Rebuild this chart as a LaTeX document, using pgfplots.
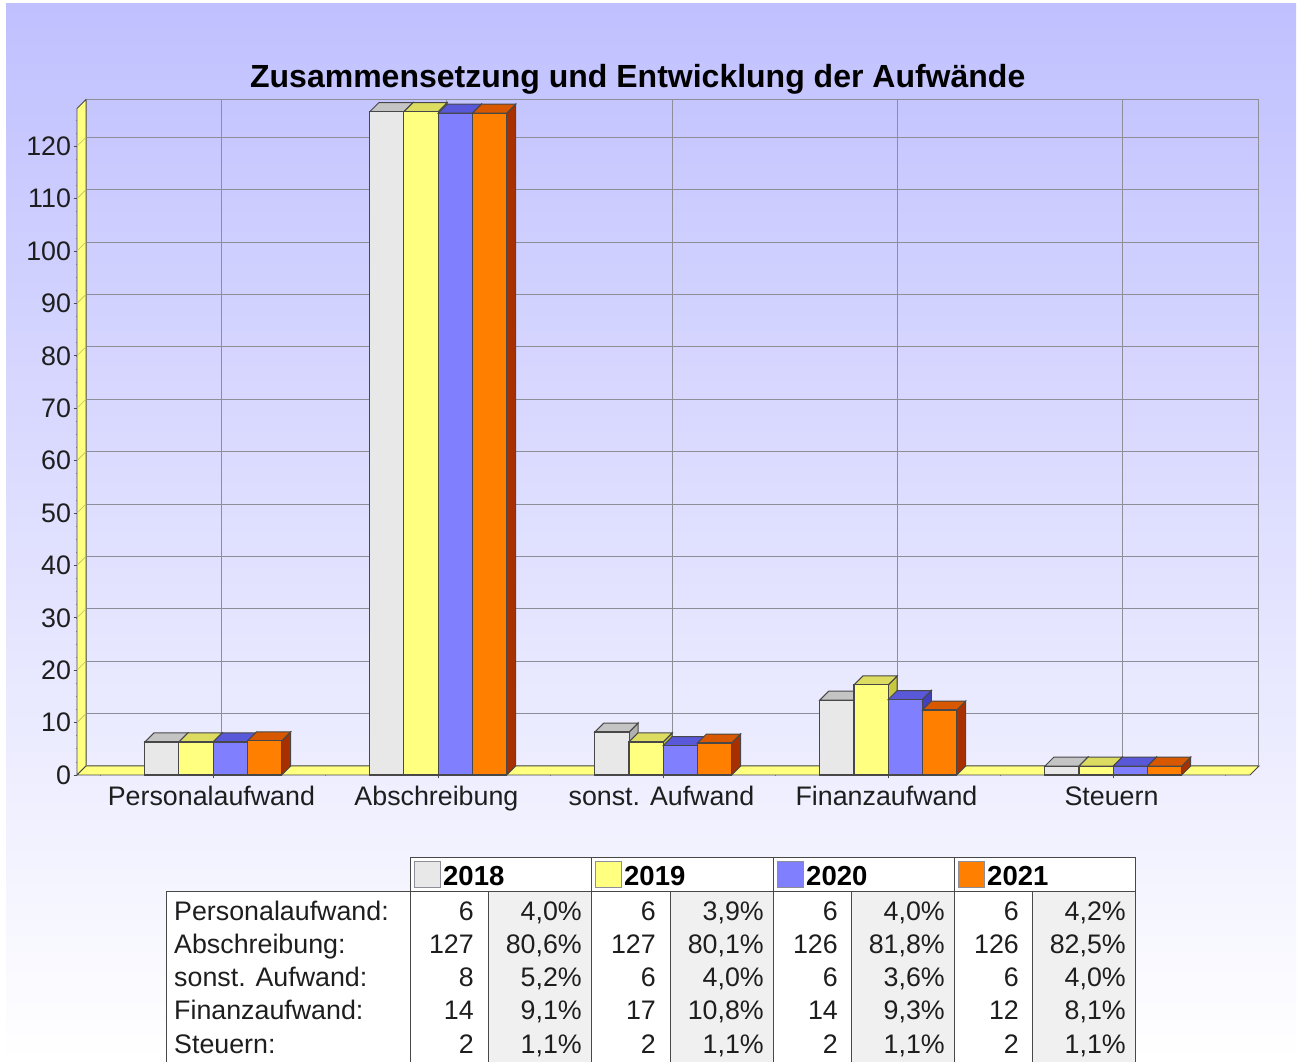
\documentclass[border=0pt]{standalone}
\usepackage{pgfplots}
\usepackage{pgfplotstable}
\usepackage{fontspec}
\usetikzlibrary{calc}
\pgfplotsset{compat=1.18}
\setmainfont{Liberation Sans}

\definecolor{c18}{HTML}{E8E8E8}
\definecolor{c19}{HTML}{FFFF80}
\definecolor{c20}{HTML}{8080FF}
\definecolor{c21}{HTML}{FF8000}
\definecolor{t18}{HTML}{C4C4C4}
\definecolor{t19}{HTML}{DCDC60}
\definecolor{t20}{HTML}{5858D8}
\definecolor{t21}{HTML}{D85800}
\definecolor{s18}{HTML}{B0B0B0}
\definecolor{s19}{HTML}{C8C840}
\definecolor{s20}{HTML}{4040C0}
\definecolor{s21}{HTML}{A83000}
\definecolor{edge}{HTML}{484848}
\definecolor{gridc}{HTML}{8E8E98}
\definecolor{txt}{HTML}{1E1E1E}
\definecolor{pct}{HTML}{F0F0F0}
\definecolor{bgtop}{HTML}{C0C0FF}

\pgfdeclareplotmark{nothing}{}

% values estimated from bar heights and the percentages in the table
\pgfplotstableread{
i y2018 y2019 y2020 y2021
0 6.3 6.3 6.3 6.5
1 126.6 126.6 126.3 126.3
2 8.2 6.3 5.6 6.1
3 14.3 17.2 14.4 12.4
4 1.7 1.7 1.7 1.7
}\data

\newcommand{\threedbar}[5]{%
  \addplot[only marks, mark=nothing, scatter,
    visualization depends on={\thisrow{#1} \as \bary},
    scatter/@pre marker code/.code={%
      \pgfscope
      \pgfsetlinewidth{1pt}\pgfsetstrokecolor{edge}
      \pgfsetfillcolor{#5}
      \pgfpathmoveto{\pgfpoint{#2pt+17.1pt}{0pt}}
      \pgfpathlineto{\pgfpoint{#2pt+26.1pt}{9pt}}
      \pgfpathlineto{\pgfpoint{#2pt+26.1pt}{9pt-\bary*5.24pt}}
      \pgfpathlineto{\pgfpoint{#2pt+17.1pt}{-\bary*5.24pt}}
      \pgfpathclose\pgfusepath{fill,stroke}
      \pgfsetfillcolor{#4}
      \pgfpathmoveto{\pgfpoint{#2pt-17.1pt}{0pt}}
      \pgfpathlineto{\pgfpoint{#2pt-8.1pt}{9pt}}
      \pgfpathlineto{\pgfpoint{#2pt+26.1pt}{9pt}}
      \pgfpathlineto{\pgfpoint{#2pt+17.1pt}{0pt}}
      \pgfpathclose\pgfusepath{fill,stroke}
    },
    scatter/@post marker code/.code={\endpgfscope}]
    table[x=i,y=#1]{\data};
  \addplot[ybar, bar width=34.2pt, bar shift=#2pt, fill=#3, draw=edge, line width=1.1pt]
    table[x=i,y=#1]{\data};
}

\begin{document}
\begin{tikzpicture}
\useasboundingbox (0pt,0pt) rectangle (1300pt,1062pt);
\shade[top color=bgtop, bottom color=white]
  (6pt,0pt) rectangle (1296pt,1058pt);

% back wall
\begin{axis}[
  at={(86pt,296pt)}, anchor=south west, scale only axis,
  width=1172pt, height=666.5pt,
  xmin=-0.604, xmax=4.604, ymin=0, ymax=127.2,
  xtick={0,1,2,3,4}, ytick={0,10,...,120},
  xticklabels={}, yticklabels={},
  major tick length=0pt,
  grid=major,
  major grid style={draw=gridc, line width=1pt},
  axis line style={draw=gridc, line width=1pt},
]
\end{axis}

% front plane with the bars
\begin{axis}[
  at={(77pt,287pt)}, anchor=south west, scale only axis,
  width=1173pt, height=666.5pt,
  xmin=-0.604, xmax=4.609, ymin=0, ymax=127.2,
  clip=false, clip mode=individual,
  axis line style={draw=none},
  tick align=outside,
  tick style={draw=edge, line width=0.7pt},
  major tick length=3.5pt, minor tick length=1.5pt,
  minor tick style={draw=gridc, line width=0.6pt},
  xtick={0,1,2,3,4},
  xticklabels={Personalaufwand,Abschreibung,sonst. Aufwand,Finanzaufwand,Steuern},
  minor xtick={-0.5,-0.25,...,4.5},
  ytick={0,10,...,120},
  minor ytick={2.5,5,...,125},
  xtick pos=bottom, ytick pos=left,
  /pgf/number format/assume math mode=true,
  ticklabel style={font=\fontsize{26.8}{30}\selectfont, text=txt},
  xticklabel style={xshift=-1.5pt, yshift=-3pt, text height=20pt},
  yticklabel style={xshift=1pt},
  title style={at={(0.478,1)}, anchor=base, yshift=15pt},
  title={\fontsize{32}{36}\selectfont\bfseries Zusammensetzung und Entwicklung der Aufwände},
]
% yellow side wall and floor
\fill[c19, draw=edge, line width=0.8pt] (rel axis cs:0,0) -- ++(9pt,9pt) -- ($(rel axis cs:0,1)+(9pt,9pt)$) -- (rel axis cs:0,1) -- cycle;
\pgfplotsinvokeforeach{10,20,...,120}{
  \draw[c19!75!black, line width=0.6pt] (axis cs:-0.604,#1) -- ++(9pt,9pt);
}
\fill[c19, draw=edge, line width=0.8pt] (rel axis cs:0,0) -- ++(9pt,9pt) -- ($(rel axis cs:1,0)+(9pt,9pt)$) -- (rel axis cs:1,0) -- cycle;

\threedbar{y2018}{-51.0}{c18}{t18}{s18}
\threedbar{y2019}{-16.9}{c19}{t19}{s19}
\threedbar{y2020}{17.3}{c20}{t20}{s20}
\threedbar{y2021}{51.6}{c21}{t21}{s21}
\end{axis}

% data table below the chart, coordinates in image pixels
\begin{scope}[shift={(0pt,1062pt)}, x=1pt, y=-1pt]
\fill[white] (166,892) rectangle (1135,1062);
\fill[white] (410,858) rectangle (1135,892);
\foreach \a/\b in {488/591,670/773,851/954,1032/1135}
  \fill[pct] (\a,892) rectangle (\b,1062);
\draw[edge, line width=1pt] (166,1062) -- (166,892) -- (1135,892);
\draw[edge, line width=1pt] (410,892) -- (410,858) -- (1135,858) -- (1135,1062);
\foreach \a in {410,591,773,954}
  \draw[edge, line width=1pt] (\a,858) -- (\a,1062);
\foreach \a in {488,670,851,1032}
  \draw[edge, line width=1pt] (\a,892) -- (\a,1062);
\foreach \a/\c/\yr in {414/c18/2018,595/c19/2019,777/c20/2020,958/c21/2021}{
  \fill[\c, draw=gridc, line width=1pt] (\a,862) rectangle (\a+26,888);
  \node[anchor=base west, inner sep=0pt, text=black, font=\fontsize{27.5}{32}\selectfont\bfseries] at (\a+29,885.7) {\yr};
}
\foreach \t [count=\r from 0] in {Personalaufwand:,Abschreibung:,sonst. Aufwand:,Finanzaufwand:,Steuern:}
  \node[anchor=base west, inner sep=0pt, text=txt, font=\fontsize{26.8}{30}\selectfont] at (174,921+33*\r) {\t};
\foreach \r/\x/\v in {
  0/474/6, 0/582/{4,0\%}, 0/656/6, 0/764/{3,9\%}, 0/838/6, 0/945/{4,0\%}, 0/1019/6, 0/1126/{4,2\%},
  1/474/127, 1/582/{80,6\%}, 1/656/127, 1/764/{80,1\%}, 1/838/126, 1/945/{81,8\%}, 1/1019/126, 1/1126/{82,5\%},
  2/474/8, 2/582/{5,2\%}, 2/656/6, 2/764/{4,0\%}, 2/838/6, 2/945/{3,6\%}, 2/1019/6, 2/1126/{4,0\%},
  3/474/14, 3/582/{9,1\%}, 3/656/17, 3/764/{10,8\%}, 3/838/14, 3/945/{9,3\%}, 3/1019/12, 3/1126/{8,1\%},
  4/474/2, 4/582/{1,1\%}, 4/656/2, 4/764/{1,1\%}, 4/838/2, 4/945/{1,1\%}, 4/1019/2, 4/1126/{1,1\%}}
  \node[anchor=base east, inner sep=0pt, text=txt, font=\fontsize{26.8}{30}\selectfont] at (\x,921+33*\r) {\v};
\end{scope}
\end{tikzpicture}
\end{document}
